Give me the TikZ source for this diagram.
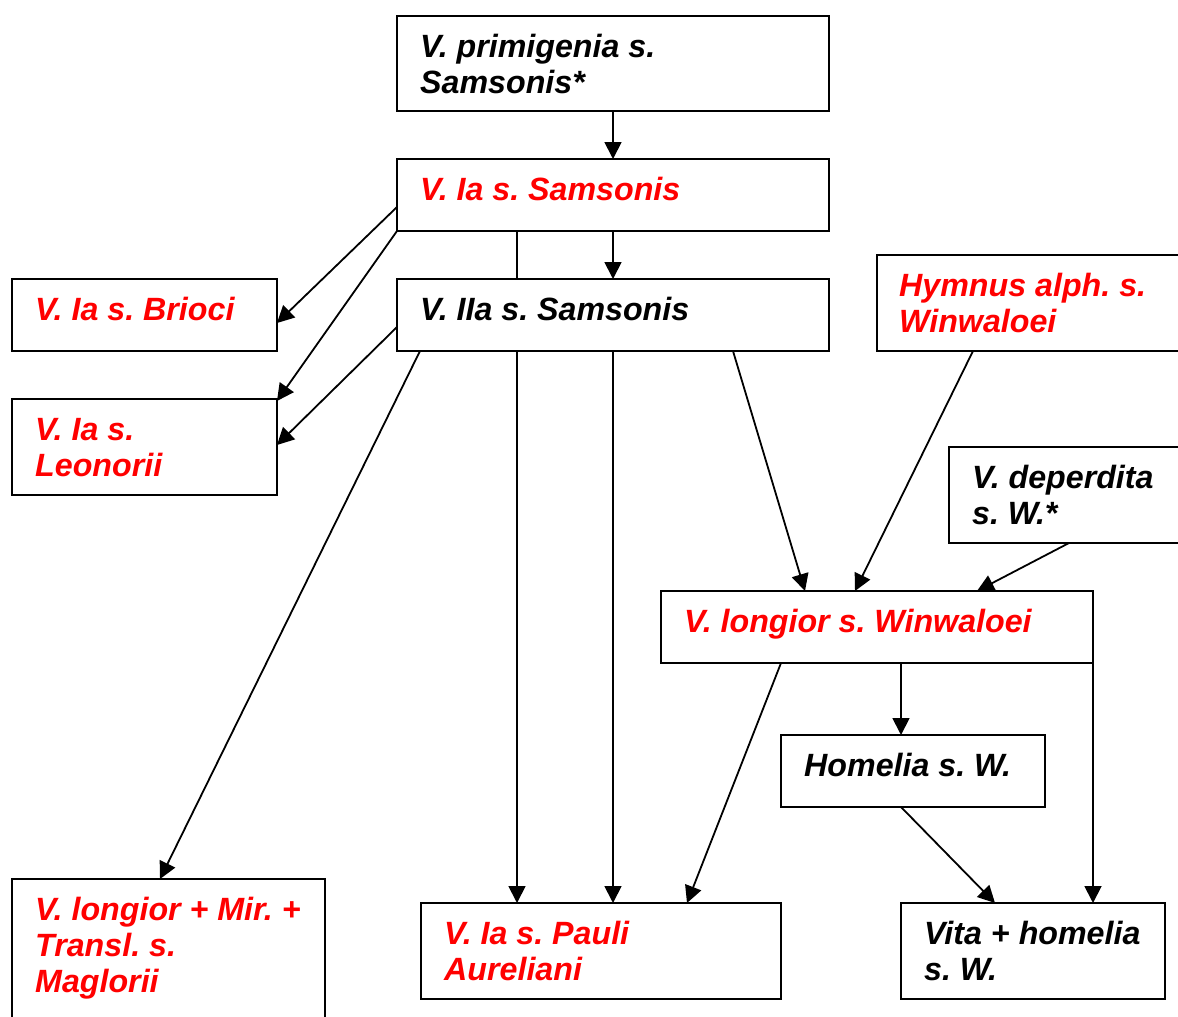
\documentclass[tikz,border=0pt]{standalone}
\usepackage{fontspec}
\setmainfont{Liberation Sans}
\usetikzlibrary{arrows.meta,backgrounds}
\tikzset{
  box/.style={draw, line width=1.8pt, fill=white, inner sep=0pt, outer sep=0pt, anchor=north west},
  txt/.style={anchor=north west, inner sep=0pt, align=left,
    font=\fontsize{32.2}{36}\selectfont\bfseries\itshape\frenchspacing},
  redtxt/.style={txt, text=red},
  conn/.style={line width=1.8pt, -{Triangle[length=17pt,width=17pt]}}
}
\newcommand{\fs}{\rule{0pt}{25.2pt}}
\begin{document}
\begin{tikzpicture}[x=1pt,y=-1pt]
\useasboundingbox (0,0) rectangle (1178,1017);
\clip (0,0) rectangle (1178,1017);
% boxes
\node[box, minimum width=432, minimum height=95] (prim) at (397,16) {};
\node[box, minimum width=432, minimum height=72] (ia) at (397,159) {};
\node[box, minimum width=432, minimum height=72] (iia) at (397,279) {};
\node[box, minimum width=265, minimum height=72] (brioci) at (12,279) {};
\node[box, minimum width=265, minimum height=96] (leon) at (12,399) {};
\node[box, minimum width=400, minimum height=96] (hym) at (877,255) {};
\node[box, minimum width=300, minimum height=96] (dep) at (949,447) {};
\node[box, minimum width=432, minimum height=72] (lw) at (661,591) {};
\node[box, minimum width=264, minimum height=72] (hom) at (781,735) {};
\node[box, minimum width=264, minimum height=96] (vita) at (901,903) {};
\node[box, minimum width=360, minimum height=96] (pauli) at (421,903) {};
\node[box, minimum width=313, minimum height=200] (mag) at (12,879) {};
% texts
\node[txt] (primT) at (420,32) {\fs V. primigenia s.\\Samsonis*};
\node[redtxt] (iaT) at (420,175) {\fs V. Ia s. Samsonis};
\node[txt] (iiaT) at (420,295) {\fs V. IIa s. Samsonis};
\node[redtxt] (briociT) at (35,295) {\fs V. Ia s. Brioci};
\node[redtxt] (leonT) at (35,415) {\fs V. Ia s.\\Leonorii};
\node[redtxt] (hymT) at (899,271) {\fs Hymnus alph. s.\\Winwaloei};
\node[txt] (depT) at (972,463) {\fs V. deperdita\\s. W.*};
\node[redtxt] (lwT) at (684,607) {\fs V. longior s. Winwaloei};
\node[txt] (homT) at (804,751) {\fs Homelia s. W.};
\node[txt] (vitaT) at (924,919) {\fs Vita + homelia\\s. W.};
\node[redtxt] (pauliT) at (444,919) {\fs V. Ia s. Pauli\\Aureliani};
\node[redtxt] (magT) at (35,895) {\fs V. longior + Mir. +\\Transl. s.\\Maglorii};
% connectors
\begin{scope}[on background layer]
\draw[conn] ([xshift=120pt]ia.south west) -- ([xshift=96pt]pauli.north west);
\end{scope}
\draw[conn] (prim.south) -- (ia.north);
\draw[conn] (ia.south) -- (iia.north);
\draw[conn] ([yshift=24pt]ia.south west) -- ([yshift=28pt]brioci.south east);
\draw[conn] (ia.south west) -- ([yshift=-2pt]leon.north east);
\draw[conn] ([yshift=24pt]iia.south west) -- ([yshift=-46pt]leon.north east);
\draw[conn] ([xshift=23pt]iia.south west) -- ([xshift=148pt]mag.north west);
\draw[conn] (iia.south) -- ([xshift=192pt]pauli.north west);
\draw[conn] ([xshift=336pt]iia.south west) -- ([xshift=144pt]lw.north west);
\draw[conn] ([xshift=96pt]hym.south west) -- ([xshift=194pt]lw.north west);
\draw[conn] ([xshift=120pt]dep.south west) -- ([xshift=316pt]lw.north west);
\draw[conn] ([xshift=240pt]lw.south west) -- ([xshift=120pt]hom.north west);
\draw[conn] ([xshift=120pt]lw.south west) -- ([xshift=266pt]pauli.north west);
\draw[conn] (lw.south east) -- ([xshift=192pt]vita.north west);
\draw[conn] ([xshift=120pt]hom.south west) -- ([xshift=94pt]vita.north west);
\end{tikzpicture}
\end{document}
